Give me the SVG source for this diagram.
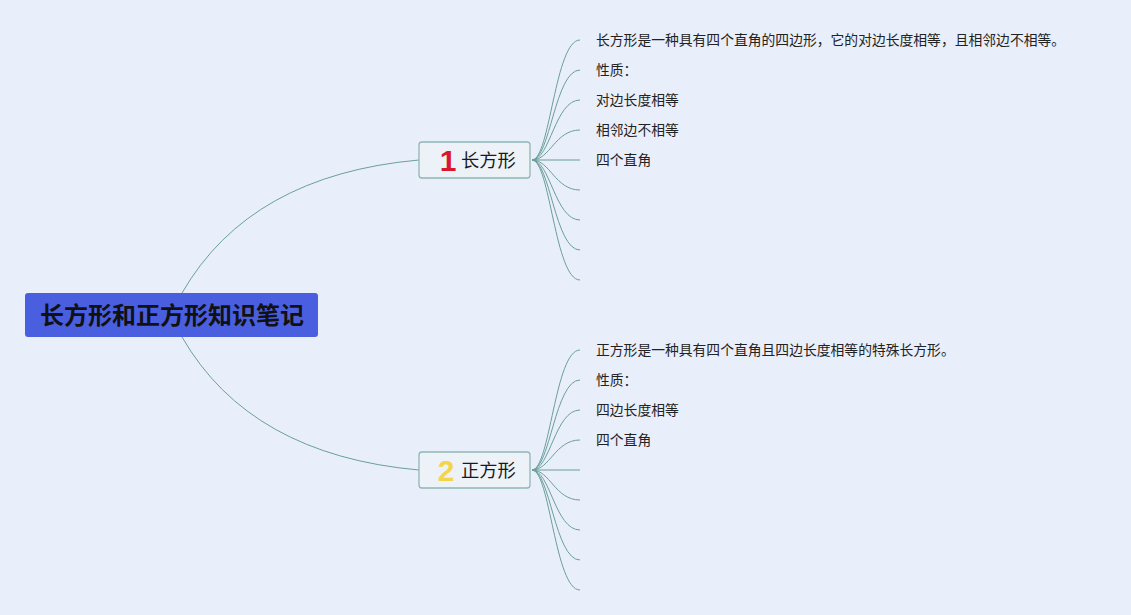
<svg xmlns="http://www.w3.org/2000/svg" width="1131" height="615" viewBox="0 0 1131 615">
<style>
.c{fill:none;stroke:#6b9f9a;stroke-width:1}
.leaf{font-family:"Noto Sans CJK SC","Noto Sans",sans-serif;font-size:13.8px;fill:#222}
.br{fill:#edf2f8;stroke:#8fb7b3;stroke-width:1.3}
.bt{font-family:"Noto Sans CJK SC","Noto Sans",sans-serif;font-size:18.3px;fill:#1a1a1a}
.num{font-family:"Liberation Sans",sans-serif;font-weight:bold;font-size:30px}
</style>
<rect width="1131" height="615" fill="#e9eefb"/>
<g id="connectors">
<path class="c" d="M182,293 Q250,175 419,160"/>
<path class="c" d="M182,337 Q250,455 419,470"/>
<path class="c" d="M532,160 C550,160 555,40 580,40"/>
<path class="c" d="M532,160 C550,160 555,70 580,70"/>
<path class="c" d="M532,160 C550,160 555,100 580,100"/>
<path class="c" d="M532,160 C550,160 555,130 580,130"/>
<path class="c" d="M532,160 L580,160"/>
<path class="c" d="M532,160 C550,160 555,190 580,190"/>
<path class="c" d="M532,160 C550,160 555,220 580,220"/>
<path class="c" d="M532,160 C550,160 555,250 580,250"/>
<path class="c" d="M532,160 C550,160 555,280 580,280"/>
<path class="c" d="M532,470 C550,470 555,350 580,350"/>
<path class="c" d="M532,470 C550,470 555,380 580,380"/>
<path class="c" d="M532,470 C550,470 555,410 580,410"/>
<path class="c" d="M532,470 C550,470 555,440 580,440"/>
<path class="c" d="M532,470 L580,470"/>
<path class="c" d="M532,470 C550,470 555,500 580,500"/>
<path class="c" d="M532,470 C550,470 555,530 580,530"/>
<path class="c" d="M532,470 C550,470 555,560 580,560"/>
<path class="c" d="M532,470 C550,470 555,590 580,590"/>
</g>
<g id="root">
<rect x="25" y="293" width="293" height="44" rx="3" fill="#4a5fe0"/>
<text x="172" y="324" text-anchor="middle" font-family="Noto Sans CJK SC,Noto Sans,sans-serif" font-weight="bold" font-size="24" fill="#111">长方形和正方形知识笔记</text>
</g>
<g id="branch1">
<rect class="br" x="419" y="142" width="111" height="36" rx="3"/>
<text class="num" x="448" y="171" text-anchor="middle" fill="#d8172f">1</text>
<text class="bt" x="461" y="167">长方形</text>
</g>
<g id="branch2">
<rect class="br" x="419" y="452" width="111" height="36" rx="3"/>
<text class="num" x="446" y="481" text-anchor="middle" fill="#f4d54a">2</text>
<text class="bt" x="461" y="477">正方形</text>
</g>
<g id="leaves1">
<text class="leaf" x="596" y="45">长方形是一种具有四个直角的四边形，它的对边长度相等，且相邻边不相等。</text>
<text class="leaf" x="596" y="75">性质：</text>
<text class="leaf" x="596" y="105">对边长度相等</text>
<text class="leaf" x="596" y="135">相邻边不相等</text>
<text class="leaf" x="596" y="165">四个直角</text>
</g>
<g id="leaves2">
<text class="leaf" x="596" y="355">正方形是一种具有四个直角且四边长度相等的特殊长方形。</text>
<text class="leaf" x="596" y="385">性质：</text>
<text class="leaf" x="596" y="415">四边长度相等</text>
<text class="leaf" x="596" y="445">四个直角</text>
</g>
</svg>
